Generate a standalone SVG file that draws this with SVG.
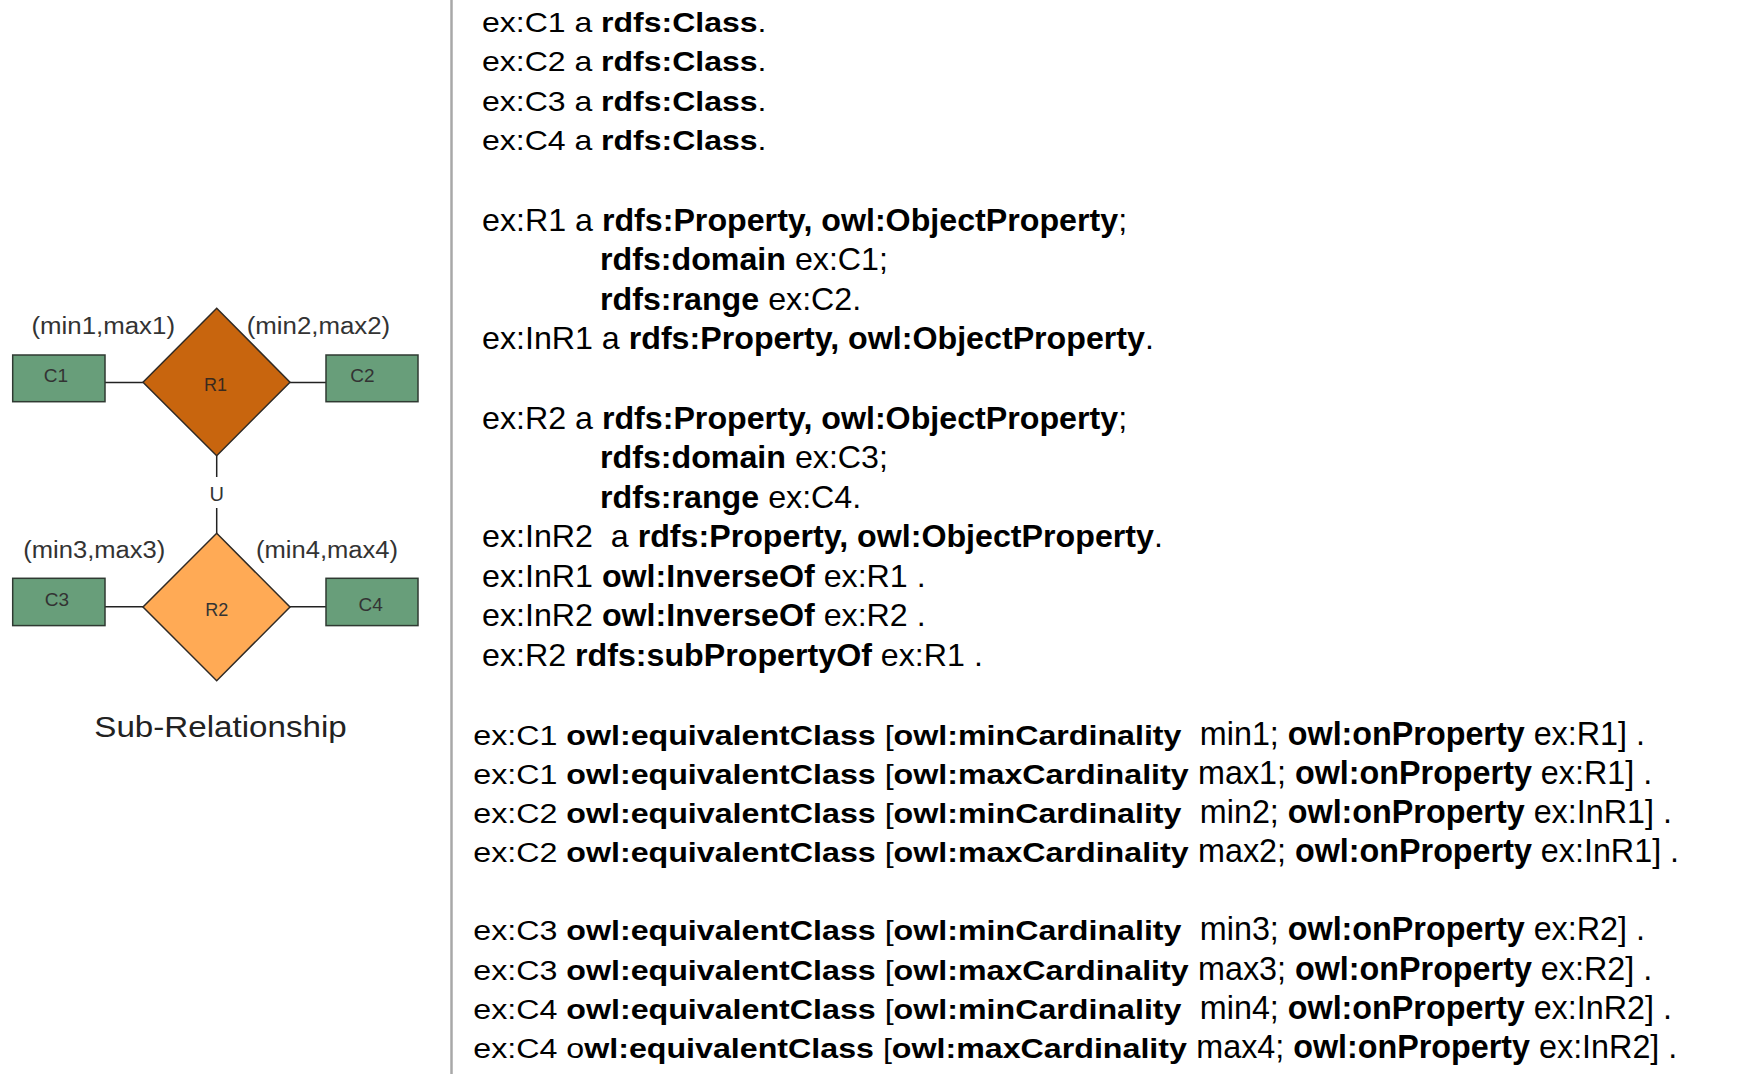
<svg xmlns="http://www.w3.org/2000/svg" width="1738" height="1074" viewBox="0 0 1738 1074">
<style>
.t{font-family:"Liberation Sans",Arial,Helvetica,sans-serif;fill:#000;white-space:pre}
.b{font-weight:bold}
.lbl{font-family:"Liberation Sans",Arial,Helvetica,sans-serif;fill:#333}
.cls{fill:#689E7A;stroke:#2f3a32;stroke-width:1.5}
.conn{stroke:#222;stroke-width:1.5;fill:none}
</style>
<rect x="0" y="0" width="1738" height="1074" fill="#fff"/>
<line x1="451.5" y1="0" x2="451.5" y2="1074" stroke="#a8a8a8" stroke-width="2.5"/>
<g id="connectors">
<line class="conn" x1="105" y1="382.5" x2="143" y2="382.5"/>
<line class="conn" x1="290" y1="382.5" x2="326" y2="382.5"/>
<line class="conn" x1="216.7" y1="455.7" x2="216.7" y2="477"/>
<line class="conn" x1="216.7" y1="508" x2="216.7" y2="533.3"/>
<line class="conn" x1="105" y1="606.7" x2="143" y2="606.7"/>
<line class="conn" x1="290" y1="606.7" x2="326" y2="606.7"/>
<text class="lbl" x="216.7" y="501" font-size="20" text-anchor="middle">U</text>
<text class="lbl" x="31.5" y="333.5" font-size="23" textLength="143.5" lengthAdjust="spacingAndGlyphs">(min1,max1)</text>
<text class="lbl" x="246.7" y="333.5" font-size="23" textLength="143.5" lengthAdjust="spacingAndGlyphs">(min2,max2)</text>
<text class="lbl" x="23.3" y="557.5" font-size="23" textLength="142" lengthAdjust="spacingAndGlyphs">(min3,max3)</text>
<text class="lbl" x="256" y="557.5" font-size="23" textLength="142" lengthAdjust="spacingAndGlyphs">(min4,max4)</text>
</g>
<g id="C1"><rect class="cls" x="12.7" y="355" width="92.3" height="46.7"/><text class="lbl" x="56" y="381.5" font-size="19" text-anchor="middle">C1</text></g>
<g id="C2"><rect class="cls" x="326" y="355" width="92" height="46.7"/><text class="lbl" x="362.5" y="381.5" font-size="19" text-anchor="middle">C2</text></g>
<g id="R1"><polygon points="216.7,308.3 290,382.2 216.7,455.7 143,382.2" fill="#C8650E" stroke="#2f2a25" stroke-width="1.5"/><text x="215.5" y="390.5" font-size="18" text-anchor="middle" class="lbl" style="fill:#3a2a1e">R1</text></g>
<g id="C3"><rect class="cls" x="12.7" y="578.3" width="92.3" height="47.3"/><text class="lbl" x="57" y="606" font-size="19" text-anchor="middle">C3</text></g>
<g id="C4"><rect class="cls" x="326" y="578.3" width="92" height="47.3"/><text class="lbl" x="370.7" y="611" font-size="19" text-anchor="middle">C4</text></g>
<g id="R2"><polygon points="216.7,533.3 290,607 216.7,680.7 143,607" fill="#FFAA55" stroke="#2f2a25" stroke-width="1.5"/><text x="216.7" y="615.5" font-size="18" text-anchor="middle" class="lbl">R2</text></g>
<g id="caption"><text class="lbl" x="94.3" y="737" font-size="29" textLength="252.4" lengthAdjust="spacingAndGlyphs" style="fill:#222">Sub-Relationship</text></g>
<g id="code">
<g transform="translate(482,32) scale(1.143,1)"><text class="t" font-size="28">ex:C1 a <tspan class="b">rdfs:Class</tspan>.</text></g>
<g transform="translate(482,71) scale(1.143,1)"><text class="t" font-size="28">ex:C2 a <tspan class="b">rdfs:Class</tspan>.</text></g>
<g transform="translate(482,110.5) scale(1.143,1)"><text class="t" font-size="28">ex:C3 a <tspan class="b">rdfs:Class</tspan>.</text></g>
<g transform="translate(482,150) scale(1.143,1)"><text class="t" font-size="28">ex:C4 a <tspan class="b">rdfs:Class</tspan>.</text></g>
<text class="t" x="482" y="230.5" font-size="32.2">ex:R1 a <tspan class="b">rdfs:Property, owl:ObjectProperty</tspan>;</text>
<text class="t" x="600" y="270" font-size="32.2"><tspan class="b">rdfs:domain</tspan> ex:C1;</text>
<text class="t" x="600" y="309.5" font-size="32.2"><tspan class="b">rdfs:range</tspan> ex:C2.</text>
<text class="t" x="482" y="349" font-size="32.2">ex:InR1 a <tspan class="b">rdfs:Property, owl:ObjectProperty</tspan>.</text>
<text class="t" x="482" y="428.5" font-size="32.2">ex:R2 a <tspan class="b">rdfs:Property, owl:ObjectProperty</tspan>;</text>
<text class="t" x="600" y="468" font-size="32.2"><tspan class="b">rdfs:domain</tspan> ex:C3;</text>
<text class="t" x="600" y="507.5" font-size="32.2"><tspan class="b">rdfs:range</tspan> ex:C4.</text>
<text class="t" x="482" y="547" font-size="32.2">ex:InR2&#160; a <tspan class="b">rdfs:Property, owl:ObjectProperty</tspan>.</text>
<text class="t" x="482" y="586.5" font-size="32.2">ex:InR1 <tspan class="b">owl:InverseOf</tspan> ex:R1 .</text>
<text class="t" x="482" y="626" font-size="32.2">ex:InR2 <tspan class="b">owl:InverseOf</tspan> ex:R2 .</text>
<text class="t" x="482" y="666" font-size="32.2">ex:R2 <tspan class="b">rdfs:subPropertyOf</tspan> ex:R1 .</text>
<g transform="translate(473.3,745) scale(1.15,1)"><text class="t" font-size="28">ex:C1 <tspan class="b">owl:equivalentClass</tspan> [<tspan class="b">owl:minCardinality</tspan></text></g>
<text class="t" x="1181.9" y="745" font-size="32.3">&#160;&#160;min1; <tspan class="b">owl:onProperty</tspan> ex:R1] .</text>
<g transform="translate(473.3,784) scale(1.15,1)"><text class="t" font-size="28">ex:C1 <tspan class="b">owl:equivalentClass</tspan> [<tspan class="b">owl:maxCardinality</tspan></text></g>
<text class="t" x="1189.1" y="784" font-size="32.3">&#160;max1; <tspan class="b">owl:onProperty</tspan> ex:R1] .</text>
<g transform="translate(473.3,823) scale(1.15,1)"><text class="t" font-size="28">ex:C2 <tspan class="b">owl:equivalentClass</tspan> [<tspan class="b">owl:minCardinality</tspan></text></g>
<text class="t" x="1181.9" y="823" font-size="32.3">&#160;&#160;min2; <tspan class="b">owl:onProperty</tspan> ex:InR1] .</text>
<g transform="translate(473.3,862) scale(1.15,1)"><text class="t" font-size="28">ex:C2 <tspan class="b">owl:equivalentClass</tspan> [<tspan class="b">owl:maxCardinality</tspan></text></g>
<text class="t" x="1189.1" y="862" font-size="32.3">&#160;max2; <tspan class="b">owl:onProperty</tspan> ex:InR1] .</text>
<g transform="translate(473.3,940) scale(1.15,1)"><text class="t" font-size="28">ex:C3 <tspan class="b">owl:equivalentClass</tspan> [<tspan class="b">owl:minCardinality</tspan></text></g>
<text class="t" x="1181.9" y="940" font-size="32.3">&#160;&#160;min3; <tspan class="b">owl:onProperty</tspan> ex:R2] .</text>
<g transform="translate(473.3,979.5) scale(1.15,1)"><text class="t" font-size="28">ex:C3 <tspan class="b">owl:equivalentClass</tspan> [<tspan class="b">owl:maxCardinality</tspan></text></g>
<text class="t" x="1189.1" y="979.5" font-size="32.3">&#160;max3; <tspan class="b">owl:onProperty</tspan> ex:R2] .</text>
<g transform="translate(473.3,1019) scale(1.15,1)"><text class="t" font-size="28">ex:C4 <tspan class="b">owl:equivalentClass</tspan> [<tspan class="b">owl:minCardinality</tspan></text></g>
<text class="t" x="1181.9" y="1019" font-size="32.3">&#160;&#160;min4; <tspan class="b">owl:onProperty</tspan> ex:InR2] .</text>
<g transform="translate(473.3,1058) scale(1.15,1)"><text class="t" font-size="28">ex:C4 o<tspan class="b">wl:equivalentClass</tspan> [<tspan class="b">owl:maxCardinality</tspan></text></g>
<text class="t" x="1187.3" y="1058" font-size="32.3">&#160;max4; <tspan class="b">owl:onProperty</tspan> ex:InR2] .</text>
</g>
</svg>
